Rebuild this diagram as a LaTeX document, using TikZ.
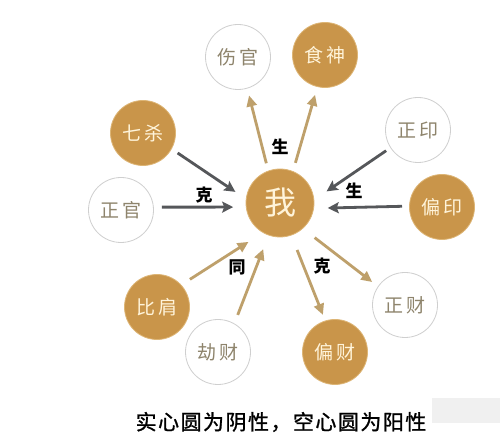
\documentclass[tikz,border=0pt]{standalone}
\usepackage{fontspec}
\newfontfamily\cjk{Noto Sans CJK SC}
\newfontfamily\cjknote[FakeBold=1.2,LetterSpace=7]{Noto Sans CJK SC}
\usetikzlibrary{calc,arrows.meta}
\definecolor{gold}{HTML}{C9954A}
\definecolor{goldline}{HTML}{DDB575}
\definecolor{arrgold}{HTML}{BEA06B}
\definecolor{arrgray}{HTML}{55575A}
\definecolor{hollowtxt}{HTML}{8E846C}
\definecolor{hollowline}{HTML}{CFCFCF}
\definecolor{cream}{HTML}{FFF4DA}
\begin{document}
\begin{tikzpicture}[x=1pt,y=1pt,
  solidcirc/.style={circle, fill=gold, draw=goldline, line width=0.8pt, minimum size=65pt, inner sep=0pt, text=cream, font=\cjk\fontsize{19}{19}\selectfont},
  hollowcirc/.style={circle, fill=white, draw=hollowline, line width=0.8pt, minimum size=65pt, inner sep=0pt, text=hollowtxt, font=\cjk\fontsize{19}{19}\selectfont},
  garrow/.style={draw=arrgold, line width=2.8pt, -{Triangle[length=11pt,width=10pt]}},
  karrow/.style={draw=arrgray, line width=2.8pt, -{Stealth[length=11pt,width=11pt,inset=2pt]}},
  lbl/.style={font=\cjk\bfseries\fontsize{17}{17}\selectfont, text=black, inner sep=0pt}
]
\useasboundingbox (0,0) rectangle (500,443);
\fill[white] (0,0) rectangle (500,443);
\fill[gray!12] (432,20) rectangle (500,45);

\node[solidcirc, minimum size=68pt, font=\cjk\fontsize{32}{32}\selectfont] (wo) at (280,240) {我};
\node[hollowcirc] (shangguan) at (238,386) {伤\hspace{3pt}官};
\node[solidcirc]  (shishen)   at (325,388) {食\hspace{3pt}神};
\node[solidcirc]  (qisha)     at (143,310) {七\hspace{3pt}杀};
\node[hollowcirc] (zhengguan) at (121,233) {正\hspace{3pt}官};
\node[hollowcirc] (zhengyin)  at (418,313) {正\hspace{3pt}印};
\node[solidcirc]  (pianyin)   at (442,236) {偏\hspace{3pt}印};
\node[solidcirc]  (bijian)    at (157,136) {比\hspace{3pt}肩};
\node[hollowcirc] (jiecai)    at (218,91)  {劫\hspace{3pt}财};
\node[hollowcirc] (zhengcai)  at (405,138) {正\hspace{3pt}财};
\node[solidcirc]  (piancai)   at (335,91)  {偏\hspace{3pt}财};

\draw[garrow] ($(wo)+(109:42)$) -- ($(shangguan)+(-74:40)$);
\draw[garrow] ($(wo)+(69:43)$) -- ($(shishen)+(-104:41)$);
\draw[karrow] ($(qisha)+(-30:40)$) -- ($(wo)+(166:46)$);
\draw[karrow] ($(zhengguan)+(4:41)$) -- ($(wo)+(-175:47)$);
\draw[karrow] ($(zhengyin)+(-147:38)$) -- ($(wo)+(14:48)$);
\draw[karrow] ($(pianyin)+(179:40)$) -- ($(wo)+(-6:48)$);
\draw[garrow] ($(bijian)+(40:43)$) -- ($(wo)+(-129:50)$);
\draw[garrow] ($(jiecai)+(62:42)$) -- ($(wo)+(-110:49)$);
\draw[garrow] ($(wo)+(-45:49)$) -- ($(zhengcai)+(145:40)$);
\draw[garrow] ($(wo)+(-70:50)$) -- ($(piancai)+(108:39)$);

\node[lbl] (sheng1) at (280,296) {生};
\node[lbl] (ke1)    at (204,248) {克};
\node[lbl] (sheng2) at (354,252) {生};
\node[lbl] (tong)   at (237,176) {同};
\node[lbl] (ke2)    at (322,177) {克};

\node[font=\cjknote\fontsize{21}{21}\selectfont, inner sep=0pt] (note) at (281,21) {实心圆为阴性，空心圆为阳性};
\end{tikzpicture}
\end{document}
